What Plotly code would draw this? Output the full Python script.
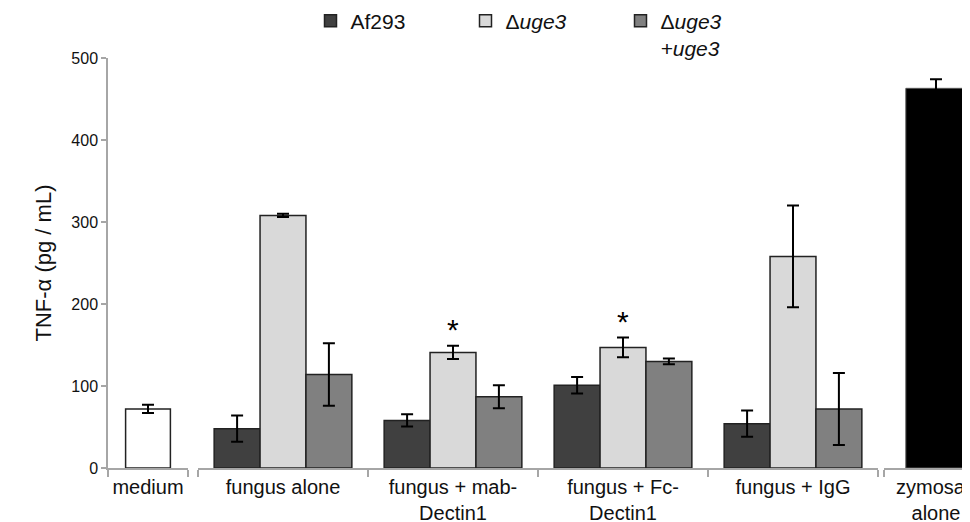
import plotly.graph_objects as go

# ---- data ----
medium_cat = ["medium"]
medium_val = [72]
medium_err = [5]

groups = ["fungus alone", "fungus + mab-<br>Dectin1", "fungus + Fc-<br>Dectin1", "fungus + IgG"]
af293_val = [48, 58, 101, 54]
af293_err = [16, 7.5, 10, 16]
duge3_val = [308, 141, 147, 258]
duge3_err = [2, 8, 12, 62]
comp_val = [114, 87, 130, 72]
comp_err = [38, 14, 3.5, 44]

zym_cat = ["zymosan<br>alone"]
zym_val = [463]
zym_err = [11]

series_names = ["Af293", "Δ<i>uge3</i>", "Δ<i>uge3</i><br><i>+uge3</i>"]
series_colors = ["#404040", "#d9d9d9", "#808080"]

star_groups = [groups[1], groups[2]]
star_y = [duge3_val[1] + duge3_err[1], duge3_val[2] + duge3_err[2]]

yticks = [0, 100, 200, 300, 400, 500]

FONT = "Liberation Sans, Arial, sans-serif"
LINE = "#222222"
AXC = "#a6a6a6"

fig = go.Figure()

def eb(errs):
    return dict(type="data", array=errs, visible=True, color="black", thickness=2, width=6)

fig.add_trace(go.Bar(x=medium_cat, y=medium_val, error_y=eb(medium_err), width=0.56,
                     marker=dict(color="white", line=dict(color=LINE, width=1.5)),
                     xaxis="x", yaxis="y", showlegend=False))

for name, vals, errs, col in zip(series_names, [af293_val, duge3_val, comp_val],
                                  [af293_err, duge3_err, comp_err], series_colors):
    fig.add_trace(go.Bar(x=groups, y=vals, error_y=eb(errs), name=name,
                         marker=dict(color=col, line=dict(color=LINE, width=1.5)),
                         xaxis="x2", yaxis="y"))

fig.add_trace(go.Bar(x=zym_cat, y=zym_val, error_y=eb(zym_err), width=0.58,
                     marker=dict(color="black", line=dict(color="#555555", width=1)),
                     xaxis="x3", yaxis="y", showlegend=False))

for g, yv in zip(star_groups, star_y):
    fig.add_annotation(x=g, y=yv, xref="x2", yref="y", text="*", showarrow=False,
                       yanchor="bottom", yshift=-2, font=dict(size=30, color="black", family=FONT))

xcommon = dict(showline=True, linecolor=AXC, linewidth=1.5, ticks="outside", tickson="boundaries",
               ticklen=7, tickcolor=AXC, tickwidth=1.5, showgrid=False, zeroline=False,
               tickangle=0, automargin=False,
               tickfont=dict(size=20, color="#111111", family=FONT), anchor="y", fixedrange=True)

W = 870.0
fig.update_layout(
    width=970, height=522,
    margin=dict(l=100, r=0, t=50, b=62, autoexpand=False),
    paper_bgcolor="white", plot_bgcolor="white",
    barmode="group", bargap=0.19, bargroupgap=0,
    font=dict(family=FONT, color="#111111"),
    xaxis=dict(domain=[0, 80 / W], **xcommon),
    xaxis2=dict(domain=[90 / W, 770 / W], **xcommon),
    xaxis3=dict(domain=[776 / W, 1.0], range=[-0.5, 0.404], **xcommon),
    yaxis=dict(range=[0, 500], tickvals=yticks, showline=True, linecolor=AXC, linewidth=1.5,
               ticks="outside", ticklen=5, tickcolor=AXC, tickwidth=1.5, showgrid=False,
               zeroline=False, automargin=False, tickfont=dict(size=16, color="#111111", family=FONT),
               title=dict(text="TNF-α (pg / mL)", font=dict(size=22, color="#111111", family=FONT),
                          standoff=14)),
    legend=dict(orientation="h", x=0.5, xanchor="center", y=1.14, yanchor="top",
                yref="paper", font=dict(size=21, color="#111111", family=FONT),
                entrywidth=110, entrywidthmode="pixels", valign="top", traceorder="normal"),
)

fig.write_html("out.html")
